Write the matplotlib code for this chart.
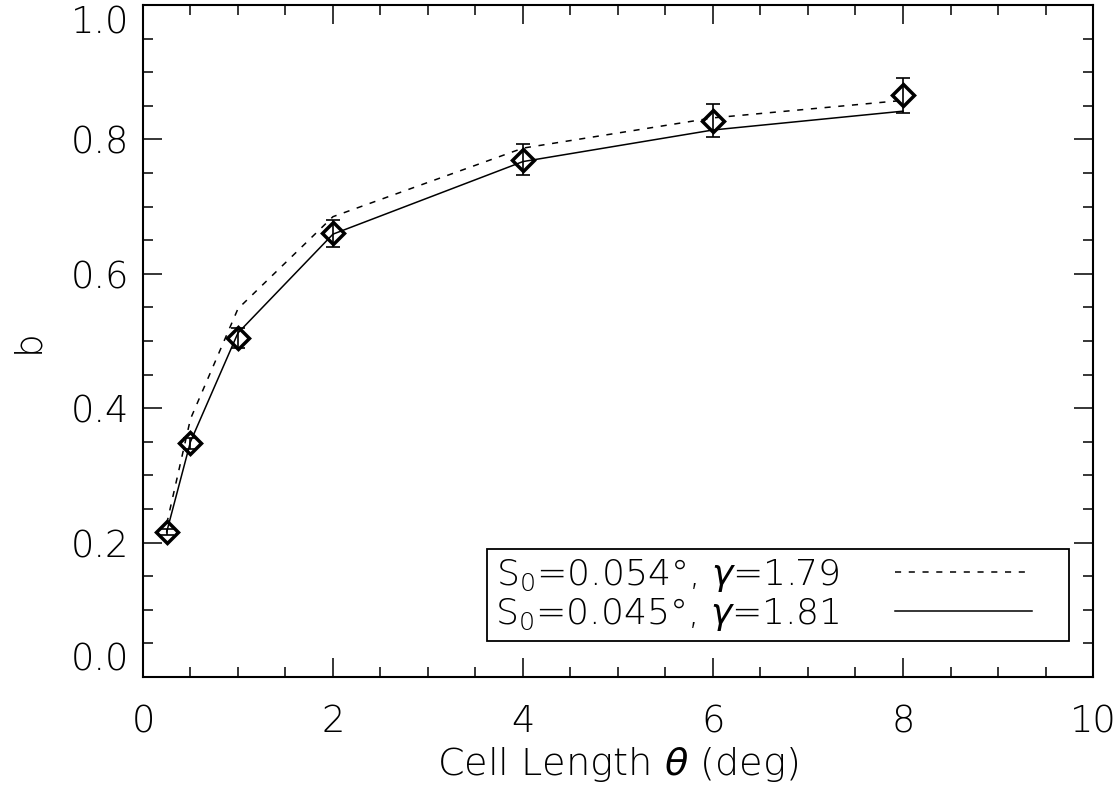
import matplotlib
matplotlib.use("Agg")
import matplotlib.pyplot as plt
from matplotlib.ticker import MultipleLocator
from matplotlib.legend_handler import HandlerLine2D

# measured points
theta = [0.25, 0.5, 1.0, 2.0, 4.0, 6.0, 8.0]
b_obs = [0.216, 0.348, 0.505, 0.660, 0.770, 0.828, 0.866]
b_err = [0.005, 0.008, 0.015, 0.020, 0.023, 0.025, 0.026]

# two model curves
b_fit1 = [0.228, 0.384, 0.548, 0.685, 0.787, 0.832, 0.858]  # S0=0.054, gamma=1.79
b_fit2 = [0.216, 0.350, 0.512, 0.659, 0.767, 0.814, 0.842]  # S0=0.045, gamma=1.81

label1 = r"S$_0$=0.054°, $\gamma$=1.79"
label2 = r"S$_0$=0.045°, $\gamma$=1.81"

xticks = [0, 2, 4, 6, 8, 10]
yticks = [0.0, 0.2, 0.4, 0.6, 0.8, 1.0]

plt.rcParams["font.family"] = ["DejaVu Sans"]
plt.rcParams["font.weight"] = "light"
plt.rcParams["mathtext.fontset"] = "custom"
plt.rcParams["mathtext.rm"] = "DejaVu Sans:light"
plt.rcParams["mathtext.it"] = "DejaVu Sans:italic"


class RightGapHandler(HandlerLine2D):
    # leaves some empty room to the right of the sample line
    def create_artists(self, legend, orig_handle, xdescent, ydescent,
                       width, height, fontsize, trans):
        return super().create_artists(legend, orig_handle, xdescent, ydescent,
                                      width - 0.8 * fontsize, height,
                                      fontsize, trans)


fig = plt.figure(figsize=(11.16, 7.9), dpi=100)
ax = fig.add_axes([0.1281, 0.1430, 0.8513, 0.8507])

l1, = ax.plot(theta, b_fit1, color="black", lw=1.1, dashes=(4, 5), label=label1)
l2, = ax.plot(theta, b_fit2, color="black", lw=1.1, label=label2)
ax.errorbar(theta, b_obs, yerr=b_err, fmt="none", ecolor="black",
            elinewidth=1.2, capsize=5, capthick=1.2)
ax.plot(theta, b_obs, "D", ms=11, mfc="none", mec="black", mew=2.5)

ax.set_xlim(0, 10)
ax.set_ylim(0, 1.0)
ax.set_xticks(xticks)
ax.set_xticklabels([str(t) for t in xticks])
ax.set_yticks(yticks)
ax.set_yticklabels(["%.1f" % t for t in yticks])
ax.xaxis.set_minor_locator(MultipleLocator(0.5))
ax.yaxis.set_minor_locator(MultipleLocator(0.05))

ax.tick_params(which="both", direction="in", top=True, right=True,
               labelsize=26.5, width=1.1)
ax.tick_params(which="major", length=14)
ax.tick_params(which="minor", length=7)
ax.tick_params(axis="x", which="major", pad=19)
ax.tick_params(axis="y", which="major", pad=10)
for s in ax.spines.values():
    s.set_linewidth(1.5)

# end labels sit inside the axis range, like the original
ax.yaxis.get_major_ticks()[0].label1.set_verticalalignment("bottom")
ax.yaxis.get_major_ticks()[-1].label1.set_verticalalignment("top")

ax.set_xlabel(r"Cell Length $\theta$ (deg)", fontsize=27.5, fontweight="light",
              labelpad=4)
ax.set_ylabel("b", fontsize=27, fontweight="light", labelpad=18)

leg = ax.legend(handles=[l1, l2], loc="lower right",
                bbox_to_anchor=(0.9747, 0.0536),
                borderaxespad=0, markerfirst=False, fontsize=26,
                handlelength=4.6, fancybox=False, framealpha=1,
                edgecolor="black", borderpad=0.22, labelspacing=0.06,
                handletextpad=1.55,
                handler_map={l1: RightGapHandler(), l2: RightGapHandler()})
leg.get_frame().set_linewidth(1.3)

fig.savefig("out.png", dpi=100)
